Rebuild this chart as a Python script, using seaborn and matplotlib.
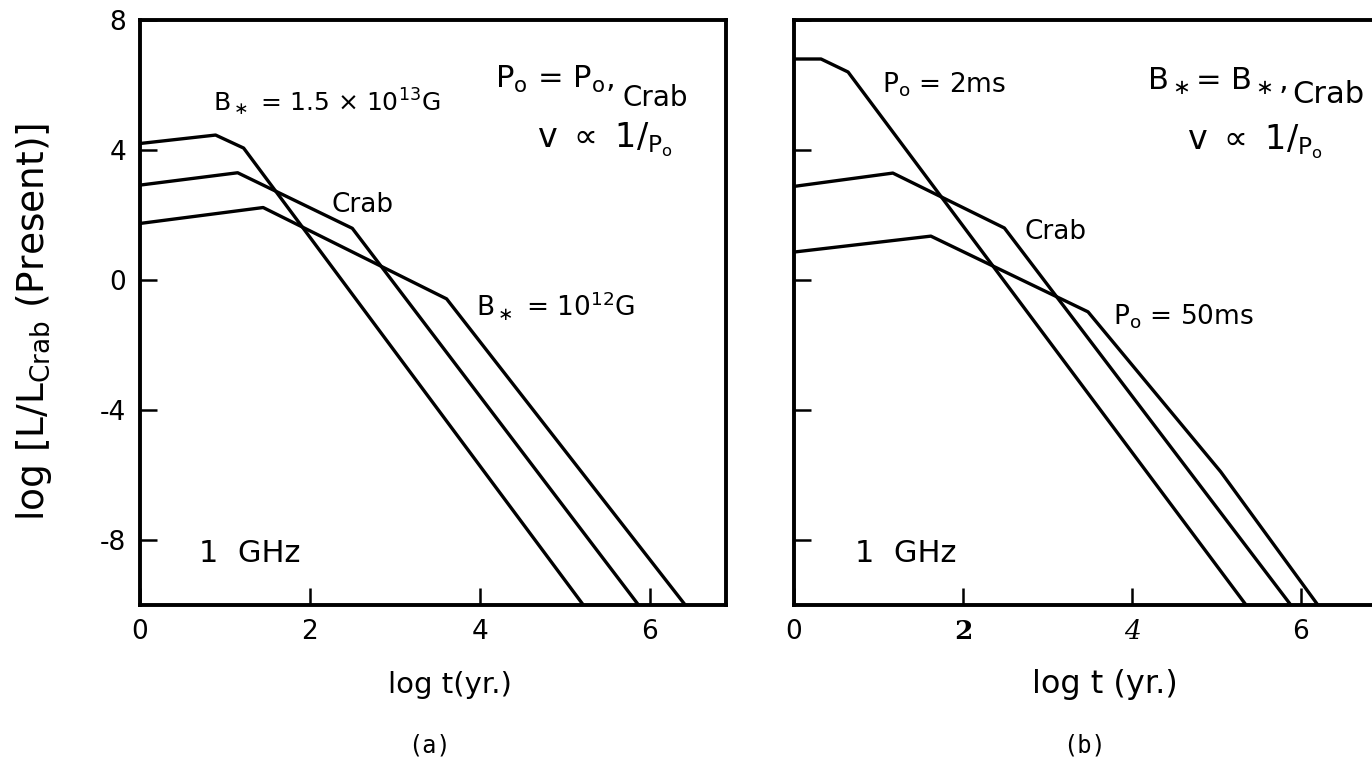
import matplotlib
matplotlib.use("Agg")
import matplotlib.pyplot as plt
import seaborn as sns

# curves: log t (yr) vs log L/L_Crab
a_strong_t = [0, 0.89, 1.22, 5.22]
a_strong_L = [4.2, 4.46, 4.06, -10]
a_crab_t = [0, 1.15, 2.5, 5.87]
a_crab_L = [2.92, 3.3, 1.59, -10]
a_weak_t = [0, 1.45, 3.61, 6.42]
a_weak_L = [1.74, 2.23, -0.58, -10]

b_fast_t = [0, 0.32, 0.64, 5.35]
b_fast_L = [6.8, 6.8, 6.4, -10]
b_crab_t = [0, 1.17, 2.49, 5.88]
b_crab_L = [2.88, 3.29, 1.6, -10]
b_slow_t = [0, 1.62, 3.48, 5.05, 6.2]
b_slow_L = [0.86, 1.35, -0.98, -5.9, -10]

x_ticks = [0, 2, 4, 6]
y_ticks = [-8, -4, 0, 4, 8]

sns.set_theme(style="white")
plt.rcParams["font.family"] = ["DejaVu Sans"]
plt.rcParams["mathtext.fontset"] = "dejavusans"
for k in ["text.color", "axes.labelcolor", "xtick.color", "ytick.color"]:
    plt.rcParams[k] = "black"

W, H = 1372, 763
fig = plt.figure(figsize=(W / 100, H / 100), dpi=100)
ax1 = fig.add_axes([140 / W, 1 - 605 / H, 586 / W, 585 / H])
ax2 = fig.add_axes([794 / W, 1 - 605 / H, 583 / W, 585 / H])

for ax, curves in [(ax1, [(a_strong_t, a_strong_L), (a_crab_t, a_crab_L), (a_weak_t, a_weak_L)]),
                   (ax2, [(b_fast_t, b_fast_L), (b_crab_t, b_crab_L), (b_slow_t, b_slow_L)])]:
    for t, L in curves:
        sns.lineplot(x=t, y=L, ax=ax, color="black", lw=2.4, sort=False, estimator=None)
    ax.set_xlim(0, 6.9)
    ax.set_ylim(-10, 8)
    ax.set_xticks(x_ticks)
    ax.set_yticks(y_ticks)
    ax.tick_params(direction="in", length=12, width=1.8, color="black",
                   labelsize=19, pad=10, bottom=True, left=True)
    for s in ax.spines.values():
        s.set_color("black")
        s.set_linewidth(2.8)
    ax.set_xlabel("")
    ax.set_ylabel("")

ax1.set_yticklabels(["-8", "-4", "0", "4", "8"])
ax2.set_yticklabels([])
ax2.spines["right"].set_visible(False)

# panel b ticks 2 and 4 are set in a serif face in the original
labs = ax2.set_xticklabels(["0", "2", "4", "6"])
labs[1].set_fontfamily("DejaVu Serif")
labs[1].set_fontweight("bold")
labs[2].set_fontfamily("DejaVu Serif")
labs[2].set_fontstyle("italic")

fs = 19
prop = r"v $\propto$ 1/$_{\mathrm{P_o}}$"
kw = dict(va="baseline")
# panel (a) annotations
ax1.text(0.86, 5.18, r"B$_\ast$ = 1.5 × 10$^{13}$G", fontsize=fs - 1, **kw)
ax1.text(4.18, 5.92, r"P$_\mathrm{o}$ = P$_\mathrm{o}$,", fontsize=fs + 3, **kw)
ax1.text(5.68, 5.34, "Crab", fontsize=fs + 1, **kw)
ax1.text(4.68, 4.08, prop, fontsize=fs + 5, **kw)
ax1.text(2.26, 2.09, "Crab", fontsize=fs, **kw)
ax1.text(3.96, -1.1, r"B$_\ast$ = 10$^{12}$G", fontsize=fs, **kw)
ax1.text(0.7, -8.4, "1  GHz", fontsize=fs + 3, va="center")

# panel (b) annotations
ax2.text(4.18, 5.86, r"B$_\ast$= B$_\ast$,", fontsize=fs + 3, **kw)
ax2.text(5.9, 5.46, "Crab", fontsize=fs + 3, **kw)
ax2.text(1.04, 5.77, r"P$_\mathrm{o}$ = 2ms", fontsize=fs, **kw)
ax2.text(4.65, 4.02, prop, fontsize=fs + 5, **kw)
ax2.text(2.73, 1.26, "Crab", fontsize=fs, **kw)
ax2.text(3.78, -1.38, r"P$_\mathrm{o}$ = 50ms", fontsize=fs, **kw)
ax2.text(0.72, -8.4, "1  GHz", fontsize=fs + 3, va="center")

fig.text(450 / W, 1 - 685 / H, "log t(yr.)", fontsize=21, ha="center", va="center")
fig.text(1105 / W, 1 - 685 / H, "log t (yr.)", fontsize=23, ha="center", va="center")
fig.text(34 / W, 1 - 322 / H, r"log [L/L$_{\mathrm{Crab}}$ (Present)]",
         fontsize=27, rotation=90, ha="center", va="center")

fig.text(430 / W, 1 - 745 / H, "(a)", fontsize=17, family="DejaVu Sans Mono", ha="center", va="center")
fig.text(1085 / W, 1 - 745 / H, "(b)", fontsize=17, family="DejaVu Sans Mono", ha="center", va="center")

fig.savefig("out.png", dpi=100, facecolor="white")
